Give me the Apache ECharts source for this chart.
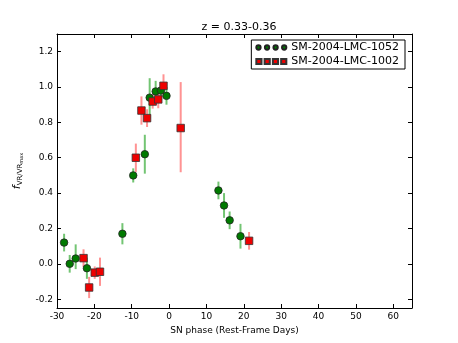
<!DOCTYPE html>
<html>
<head>
<meta charset="utf-8">
<script src="https://cdn.jsdelivr.net/npm/echarts@6/dist/echarts.min.js"></script>
<style>
  html, body { margin: 0; padding: 0; background: #fff; }
  #container { width: 458px; height: 343px; }
</style>
</head>
<body>
<div id="container"></div>
<script>
// SM-2004-LMC-1052 (green circles)
var greenX  = [-28.1, -26.6, -25.0, -22.0, -12.5, -9.6, -6.5, -5.2, -3.6, -2.2, -0.7, 13.2, 14.7, 16.2, 19.1];
var greenY  = [0.12, 0.0, 0.03, -0.025, 0.17, 0.50, 0.62, 0.94, 0.975, 0.98, 0.95, 0.415, 0.33, 0.246, 0.156];
var greenLo = [0.05, 0.05, 0.06, 0.06, 0.06, 0.04, 0.11, 0.12, 0.06, 0.04, 0.05, 0.05, 0.07, 0.05, 0.07];
var greenHi = [0.05, 0.05, 0.08, 0.06, 0.06, 0.04, 0.11, 0.11, 0.06, 0.04, 0.05, 0.05, 0.07, 0.05, 0.07];
// SM-2004-LMC-1002 (red squares)
var redX  = [-22.9, -21.4, -19.9, -18.5, -8.9, -7.4, -5.9, -4.4, -2.9, -1.5, 3.1, 21.4];
var redY  = [0.032, -0.134, -0.05, -0.045, 0.60, 0.867, 0.824, 0.918, 0.93, 1.007, 0.768, 0.13];
var redLo = [0.05, 0.06, 0.035, 0.08, 0.08, 0.08, 0.05, 0.04, 0.05, 0.065, 0.25, 0.05];
var redHi = [0.05, 0.06, 0.035, 0.08, 0.08, 0.08, 0.05, 0.04, 0.05, 0.065, 0.26, 0.05];

var xTicks = [-30, -20, -10, 0, 10, 20, 30, 40, 50, 60];
var yTicks = [-0.2, 0, 0.2, 0.4, 0.6, 0.8, 1.0, 1.2];
var names = ['SM-2004-LMC-1052', 'SM-2004-LMC-1002'];

var font = 'DejaVu Sans';

function pts(xs, ys) {
  var out = [];
  for (var i = 0; i < xs.length; i++) out.push([xs[i], ys[i]]);
  return out;
}
function bars(xs, ys, lo, hi) {
  var out = [];
  for (var i = 0; i < xs.length; i++) out.push([xs[i], ys[i] - lo[i], ys[i] + hi[i]]);
  return out;
}
function errRender(color) {
  return function (params, api) {
    var a = api.coord([api.value(0), api.value(1)]);
    var b = api.coord([api.value(0), api.value(2)]);
    return {
      type: 'line',
      shape: { x1: a[0], y1: a[1], x2: b[0], y2: b[1] },
      style: { stroke: color, lineWidth: 2 }
    };
  };
}

// four markers in a row for the legend, like matplotlib numpoints=4
var circ4 = 'path://M2,5a2,2 0 1,0 4,0a2,2 0 1,0 -4,0M10,5a2,2 0 1,0 4,0a2,2 0 1,0 -4,0M18,5a2,2 0 1,0 4,0a2,2 0 1,0 -4,0M26,5a2,2 0 1,0 4,0a2,2 0 1,0 -4,0';
var sq4 = 'path://M1.5,2.5h5v5h-5zM9.5,2.5h5v5h-5zM17.5,2.5h5v5h-5zM25.5,2.5h5v5h-5z';

var dom = document.getElementById('container');
var myChart = echarts.init(dom, null, { renderer: 'canvas' });

var tickStyle = { inside: true, length: 4, lineStyle: { color: '#000', width: 1 } };
var lineStyle = { show: true, onZero: false, lineStyle: { color: '#000', width: 1 } };

var option = {
  animation: false,
  backgroundColor: '#fff',
  textStyle: { fontFamily: font },
  title: {
    text: 'z = 0.33-0.36',
    left: 234, top: 17, textAlign: 'center',
    textStyle: { fontFamily: font, fontSize: 11, fontWeight: 'normal', color: '#000' }
  },
  legend: {
    right: 53, top: 40,
    orient: 'vertical',
    itemWidth: 30, itemHeight: 9, itemGap: 3,
    padding: [2, 6, 2, 4],
    borderColor: '#000', borderWidth: 1,
    backgroundColor: '#fff',
    textStyle: { fontFamily: font, fontSize: 11, color: '#000' },
    data: [
      { name: names[0], icon: circ4 },
      { name: names[1], icon: sq4 }
    ]
  },
  grid: { left: 57, right: 46, top: 34, bottom: 35 },
  xAxis: [{
    type: 'value', min: -30, max: 65,
    name: 'SN phase (Rest-Frame Days)', nameLocation: 'middle', nameGap: 14,
    nameTextStyle: { fontFamily: font, fontSize: 9, color: '#000' },
    axisLine: lineStyle,
    axisTick: Object.assign({ customValues: xTicks }, tickStyle),
    axisLabel: { customValues: xTicks, fontFamily: font, fontSize: 9, color: '#000', margin: 4 },
    splitLine: { show: false }
  }, {
    type: 'value', min: -30, max: 65, position: 'top',
    axisLine: lineStyle,
    axisTick: Object.assign({ customValues: xTicks }, tickStyle),
    axisLabel: { show: false },
    splitLine: { show: false }
  }],
  yAxis: [{
    type: 'value', min: -0.25, max: 1.3,
    name: '{f|f}{s|VR/VR}{ss|max}', nameLocation: 'middle', nameGap: 31, nameRotate: 90,
    nameTextStyle: {
      rich: {
        f: { fontFamily: font, fontStyle: 'italic', fontSize: 11, color: '#000' },
        s: { fontFamily: font, fontSize: 7, color: '#000', padding: [6, 0, 0, 0] },
        ss: { fontFamily: font, fontSize: 5, color: '#000', padding: [9, 0, 0, 0] }
      }
    },
    axisLine: lineStyle,
    axisTick: Object.assign({ customValues: yTicks }, tickStyle),
    axisLabel: {
      customValues: yTicks, fontFamily: font, fontSize: 9, color: '#000', margin: 4,
      formatter: function (v) { return v.toFixed(1); }
    },
    splitLine: { show: false }
  }, {
    type: 'value', min: -0.25, max: 1.3, position: 'right',
    axisLine: lineStyle,
    axisTick: Object.assign({ customValues: yTicks }, tickStyle),
    axisLabel: { show: false },
    splitLine: { show: false }
  }],
  series: [
    {
      name: names[1] + ' err', type: 'custom',
      renderItem: errRender('rgba(255,40,40,0.5)'),
      data: bars(redX, redY, redLo, redHi), z: 1
    },
    {
      name: names[0] + ' err', type: 'custom',
      renderItem: errRender('rgba(0,150,0,0.55)'),
      data: bars(greenX, greenY, greenLo, greenHi), z: 1
    },
    {
      name: names[0], type: 'scatter', symbol: 'circle', symbolSize: 7.5,
      itemStyle: { color: '#007a00', borderColor: '#222', borderWidth: 0.8, opacity: 1 },
      data: pts(greenX, greenY), z: 3
    },
    {
      name: names[1], type: 'scatter', symbol: 'rect', symbolSize: 7.5,
      itemStyle: { color: '#ee0000', borderColor: '#333', borderWidth: 0.8, opacity: 1 },
      data: pts(redX, redY), z: 4
    }
  ]
};

if (option && typeof option === 'object') {
  myChart.setOption(option, true);
}
</script>
</body>
</html>
